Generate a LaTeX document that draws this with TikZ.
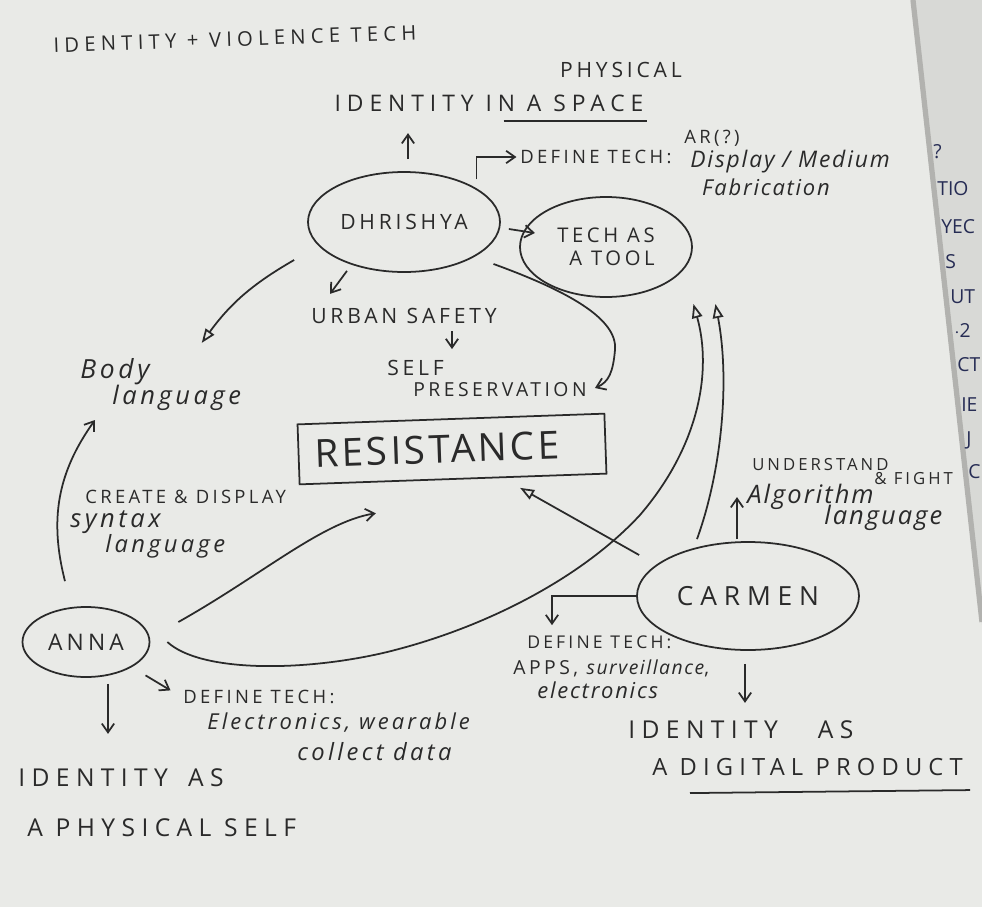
\documentclass[tikz,border=0pt]{standalone}
\usepackage{fontspec}
\setmainfont{Open Sans}
\newfontfamily\capsfont[LetterSpace=18]{Open Sans}
\newfontfamily\widefont[LetterSpace=26]{Open Sans}
\newfontfamily\resfont[LetterSpace=8]{Open Sans}
\newfontfamily\handfont[LetterSpace=8]{Open Sans}
\newfontfamily\widehand[LetterSpace=14]{Open Sans}
\usetikzlibrary{arrows.meta, positioning, calc, shapes.geometric}
\definecolor{paper}{RGB}{233,234,231}
\definecolor{ink}{RGB}{42,42,42}
\definecolor{sheet}{RGB}{216,217,214}
\definecolor{sheetedge}{RGB}{178,178,175}
\definecolor{navy}{RGB}{38,44,84}
\tikzset{
  caps/.style={font=\capsfont\fontsize{12}{14}\selectfont, text=ink, inner sep=0pt},
  bigcaps/.style={font=\widefont\fontsize{14}{16}\selectfont, text=ink, inner sep=0pt},
  smallcaps/.style={font=\capsfont\fontsize{10.5}{12.5}\selectfont, text=ink, inner sep=0pt},
  hand/.style={font=\handfont\itshape\fontsize{13}{15}\selectfont, text=ink, inner sep=0pt},
  widehand/.style={font=\widehand\itshape\fontsize{14.5}{16}\selectfont, text=ink, inner sep=0pt},
  bubble/.style={ellipse, draw=ink, line width=1pt, inner sep=0pt, text=ink},
  arrow/.style={-{Straight Barb[length=5pt, width=7pt]}, line width=1pt, draw=ink},
  openarrow/.style={-{Triangle[open, length=8pt, width=6pt]}, line width=1pt, draw=ink},
  line/.style={line width=1pt, draw=ink}
}
\begin{document}
\begin{tikzpicture}[x=0.2mm, y=-0.2mm]

  % Paper and the sheet lying under it
  \fill[paper] (0,0) rectangle (982,907);
  \useasboundingbox (0,0) rectangle (982,907);
  \fill[sheet] (912,0) -- (982,0) -- (982,625) -- cycle;
  \draw[sheetedge, line width=3pt] (913,0) -- (982,622);
  \foreach \frag/\xx/\yy in {?/933/152, TIO/937/189, YEC/941/227, S/945/262,
      UT/950/297, {$\cdot$2}/954/330, CT/957/365, IE/961/405, J/966/440, C/968/472}
    \node[font=\fontsize{11}{13}\selectfont, text=navy, anchor=west, inner sep=0pt] at (\xx,\yy) {\frag};

  % Nodes
  \node[caps, font=\widefont\fontsize{11.5}{13}\selectfont, rotate=2] (title) at (235,39) {IDENTITY + VIOLENCE TECH};
  \node[caps] (physical) at (621,70) {PHYSICAL};
  \node[caps, font=\widefont\fontsize{13}{15}\selectfont] (space) at (489,103) {IDENTITY IN A SPACE};

  \node[bubble, font=\capsfont\fontsize{12}{14}\selectfont, minimum width=3.84cm, minimum height=2cm] (dhr) at (404,222) {DHRISHYA};
  \node[smallcaps, anchor=west] (deftechD) at (520,157) {DEFINE TECH:};
  \node[smallcaps] (ar) at (712,138) {AR(?)};
  \node[hand, anchor=west] (display) at (690,162) {Display / Medium};
  \node[hand, font=\handfont\itshape\fontsize{12.5}{14}\selectfont] (fab) at (766,187) {Fabrication};
  \node[bubble, font=\capsfont\fontsize{11.5}{13}\selectfont, align=left, minimum width=3.44cm, minimum height=2cm]
    (tool) at (606,247) {TECH AS\\\hspace*{0.6em}A TOOL};

  \node[caps] (urban) at (404,316) {URBAN SAFETY};
  \node[caps, anchor=west] (self) at (387,368) {SELF};
  \node[caps, font=\capsfont\fontsize{11}{13}\selectfont, anchor=west] (pres) at (413,390) {PRESERVATION};
  \node[draw=ink, line width=1pt, minimum width=6.14cm, minimum height=1.2cm, rotate=2,
    font=\resfont\fontsize{22}{24}\selectfont, text=ink] (res) at (452,449) {RESISTANCE\hspace*{0.6cm}};

  \node[widehand, font=\widehand\itshape\fontsize{15}{17}\selectfont, anchor=west] (body) at (80,372) {Body};
  \node[widehand, anchor=west] (bodylang) at (112,398) {language};
  \node[smallcaps, anchor=west] (create) at (85,497) {CREATE \& DISPLAY};
  \node[widehand, anchor=west] (syntax) at (70,522) {syntax};
  \node[widehand, font=\widehand\itshape\fontsize{13.5}{15}\selectfont, anchor=west] (syntaxlang) at (105,546) {language};

  \node[bubble, font=\capsfont\fontsize{13}{15}\selectfont, minimum width=2.54cm, minimum height=1.4cm] (anna) at (86,642) {ANNA};
  \node[smallcaps, anchor=west] (deftechA) at (183,697) {DEFINE TECH:};
  \node[widehand, font=\widehand\itshape\fontsize{12.5}{14}\selectfont, anchor=west] (elec) at (207,723) {Electronics, wearable};
  \node[widehand, font=\widehand\itshape\fontsize{13.5}{15}\selectfont, anchor=west] (collect) at (297,752) {collect data};
  \node[bigcaps, anchor=west] (selfA) at (18,778) {IDENTITY\ \hspace{0.3em}AS};
  \node[bigcaps, anchor=west] (selfB) at (27,828) {A PHYSICAL SELF};

  \node[bubble, font=\widefont\fontsize{15}{17}\selectfont, minimum width=4.44cm, minimum height=2.16cm] (carmen) at (748,596) {CARMEN};
  \node[smallcaps, font=\capsfont\fontsize{9.5}{11}\selectfont, anchor=west] (understand) at (752,465) {UNDERSTAND};
  \node[smallcaps, font=\capsfont\fontsize{9.5}{11}\selectfont, anchor=west] (fight) at (874,479) {\& FIGHT};
  \node[hand, font=\handfont\itshape\fontsize{14.5}{16}\selectfont, anchor=west] (algo) at (747,497) {Algorithm};
  \node[hand, font=\handfont\itshape\fontsize{14.5}{16}\selectfont, anchor=west] (algolang) at (824,518) {language};
  \node[smallcaps, font=\capsfont\fontsize{10}{12}\selectfont, anchor=west] (deftechC) at (527,642) {DEFINE TECH:};
  \node[smallcaps, font=\capsfont\fontsize{11}{13}\selectfont, anchor=west] (apps) at (513,668) {APPS, {\handfont\itshape surveillance},};
  \node[hand, font=\handfont\itshape\fontsize{12.5}{14}\selectfont, anchor=west] (elecC) at (537,690) {electronics};
  \node[bigcaps, anchor=west] (digA) at (628,730) {IDENTITY\ \hspace{1.1em}AS};
  \node[bigcaps, font=\widefont\fontsize{13.5}{15}\selectfont, anchor=west] (digB) at (652,767) {A DIGITAL PRODUCT};

  % Underlines
  \draw[line] ($(space.south east)+(-140,9)$) -- ($(space.south east)+(3,9)$);
  \draw[line] ($(digB.south west)+(38,17)$) -- ($(digB.south east)+(7,14)$);

  % Arrows from Dhrishya
  \draw[arrow] ($(dhr.north)+(4,-12)$) -- ++(0,-26);
  \draw[arrow, shorten <=5pt, shorten >=2pt] (dhr.25) |- (deftechD.west);
  \draw[arrow] ($(dhr.east)+(8,7)$) -- ++(26,4);
  \draw[openarrow] ($(dhr.west)+(-13,38)$) to[bend right=12] ($(bodylang.north)+(25,-42)$);
  \draw[arrow] ($(dhr.south)+(-57,-2)$) -- ++(-17,23);
  \draw[arrow] ($(dhr.south east)+(21,6)$) .. controls (565,290) and (618,318) .. (615,350)
    .. controls (613,372) and (609,382) .. ($(pres.east)+(8,-2)$);
  \draw[arrow] ($(urban.south)+(48,7)$) -- ++(0,18);

  % Arrows from Anna
  \draw[arrow] ($(anna.north)+(-21,-25)$) to[bend left=25] ($(bodylang.west)+(-17,22)$);
  \draw[arrow] ($(anna.east)+(28,-20)$) .. controls (262,575) and (322,522) .. ($(res.south west)+(77,28)$);
  \draw[openarrow] ($(anna.east)+(17,0)$) .. controls (200,672) and (300,672) .. (383,653)
    .. controls (480,630) and (580,580) .. (640,515)
    .. controls (700,445) and (712,370) .. ($(tool.south east)+(26,21)$);
  \draw[arrow] ($(anna.south)+(22,6)$) -- ++(0,50);
  \draw[arrow] ($(anna.south east)+(14,8)$) -- ++(25,15);

  % Arrows from Carmen
  \draw[openarrow] ($(carmen.north)+(-51,-2)$) .. controls (722,470) and (730,380) .. ($(tool.south east)+(48,21)$);
  \draw[openarrow] ($(carmen.west)+(3,-41)$) -- ($(res.south)+(67,8)$);
  \draw[arrow] ($(carmen.north)+(-11,-2)$) -- ++(0,-42);
  \draw[arrow] (carmen.west) -| ($(deftechC.north west)+(25,-10)$);
  \draw[arrow] ($(carmen.south)+(-3,13)$) -- ++(0,39);

\end{tikzpicture}
\end{document}
